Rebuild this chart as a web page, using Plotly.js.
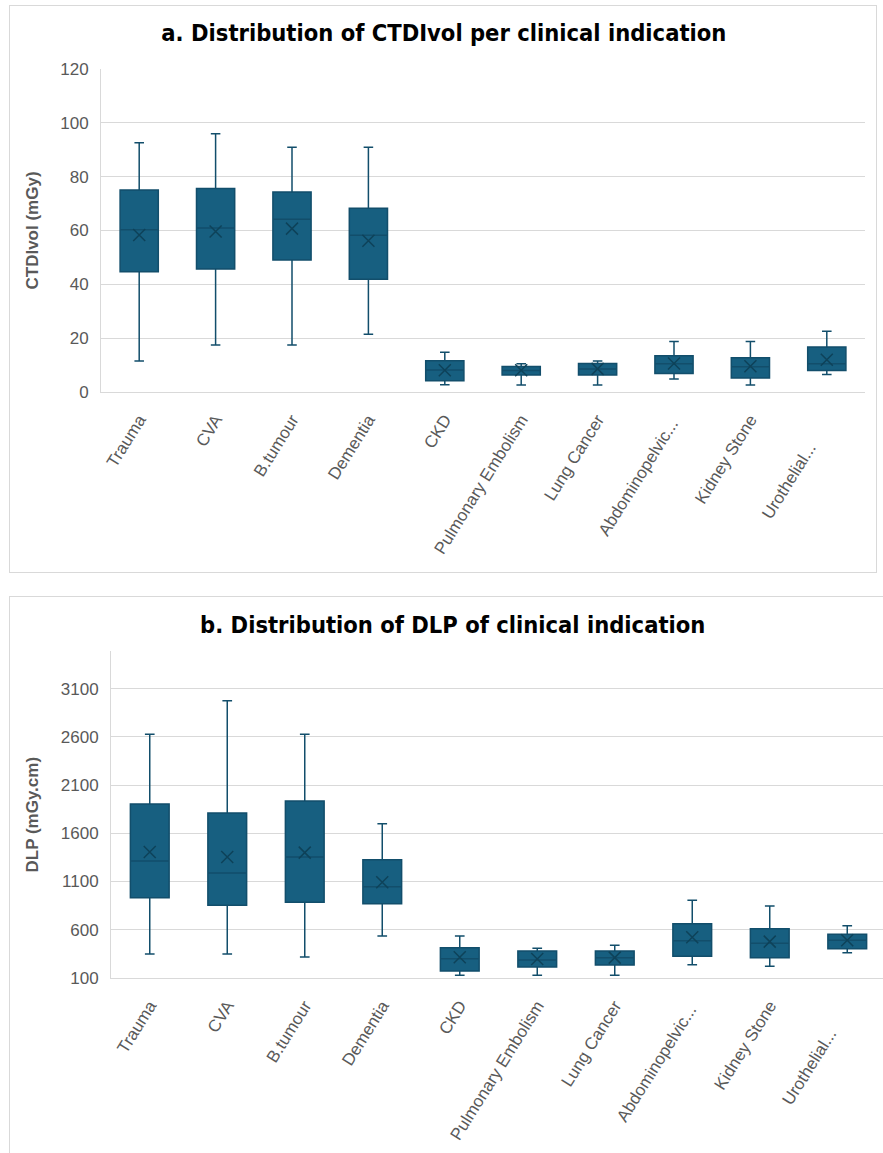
<!DOCTYPE html>
<html>
<head>
<meta charset="utf-8">
<script src="https://cdn.plot.ly/plotly-3.0.1.min.js"></script>
<style>
  html, body { margin: 0; padding: 0; width: 883px; height: 1153px; overflow: hidden; background: #ffffff; }
  .panel { position: absolute; border: 1px solid #d9d9d9; background: #fff; }
</style>
</head>
<body>
<div class="panel" id="panelA" style="left:9px; top:5px; width:866px; height:566px;"><div id="chartA"></div></div>
<div class="panel" id="panelB" style="left:9px; top:596px; width:898px; height:568px;"><div id="chartB"></div></div>
<script>
// Categories (clinical indications)
const categories = ["Trauma", "CVA", "B.tumour", "Dementia", "CKD", "Pulmonary Embolism", "Lung Cancer", "Abdominopelvic...", "Kidney Stone", "Urothelial..."];
// Tick labels as displayed (Excel shifts the truncated last label along its baseline)
const tickLabels = ["Trauma", "CVA", "B.tumour", "Dementia", "CKD", "Pulmonary Embolism", "Lung Cancer", "Abdominopelvic...\u00a0", "Kidney Stone", "Urothelial...\u00a0\u00a0\u00a0\u00a0\u00a0\u00a0\u00a0"];

// a. CTDIvol (mGy)
const ctdiMin    = [11.5, 17.5, 17.5, 21.5, 2.7, 2.6, 2.6, 4.8, 2.6, 6.5];
const ctdiQ1     = [44.7, 45.7, 49.0, 41.9, 4.2, 6.3, 6.3, 6.9, 5.2, 8.0];
const ctdiMedian = [60.3, 60.9, 64.2, 58.2, 8.2, 8.0, 8.5, 10.5, 9.4, 10.5];
const ctdiQ3     = [75.0, 75.6, 74.3, 68.3, 11.6, 9.5, 10.6, 13.5, 12.7, 16.7];
const ctdiMax    = [92.6, 95.9, 90.9, 90.9, 14.8, 10.5, 11.5, 18.8, 18.8, 22.6];
const ctdiMean   = [58.3, 59.6, 60.7, 56.2, 8.1, 8.1, 8.6, 10.6, 9.6, 12.0];

// b. DLP (mGy.cm)
const dlpMin    = [349, 349, 318, 536, 128, 128, 128, 238, 221, 362];
const dlpQ1     = [933, 854, 885, 870, 173, 214, 235, 325, 311, 404];
const dlpMedian = [1313, 1189, 1355, 1047, 300, 287, 311, 487, 460, 491];
const dlpQ3     = [1904, 1811, 1935, 1327, 414, 380, 380, 663, 611, 553];
const dlpMax    = [2627, 2973, 2627, 1700, 535, 408, 439, 906, 847, 642];
const dlpMean   = [1407, 1355, 1400, 1092, 315, 297, 311, 522, 477, 491];

const ctdiTicks = [0, 20, 40, 60, 80, 100, 120];
const dlpTicks  = [100, 600, 1100, 1600, 2100, 2600, 3100];

const FILL = "#175f80";
const LINE = "#124e6b";
const MEANC = "#0e4259";
const GRID = "#d9d9d9";
const TXT = "#595959";
const FONT = "Liberation Sans, Arial, sans-serif";
const TITLEFONT = "Liberation Sans Narrow, DejaVu Sans Condensed, Arial Narrow, sans-serif";

function boxTrace(q1, med, q3, lo, hi) {
  return {
    type: "box",
    x: categories,
    q1: q1, median: med, q3: q3, lowerfence: lo, upperfence: hi,
    fillcolor: FILL,
    line: { color: LINE, width: 1.5 },
    width: 0.5,
    whiskerwidth: 0.25,
    boxpoints: false,
    showlegend: false,
    hoverinfo: "skip"
  };
}
function meanTrace(mean) {
  return {
    type: "scatter", mode: "markers",
    x: categories, y: mean,
    marker: { symbol: "x-thin-open", size: 12, color: MEANC, line: { color: MEANC, width: 1.5 } },
    showlegend: false, hoverinfo: "skip"
  };
}

function makeLayout(w, h, m, title, tx, ty, yRange, yTicks, yTitle) {
  return {
    width: w, height: h,
    margin: m,
    paper_bgcolor: "rgba(0,0,0,0)",
    plot_bgcolor: "#ffffff",
    showlegend: false,
    title: {
      text: title, xref: "container", yref: "container", x: tx, y: ty,
      xanchor: "center", yanchor: "middle",
      font: { family: TITLEFONT, size: 23.5, color: "#000000", weight: 700 }
    },
    xaxis: {
      type: "category",
      range: [-0.5, categories.length - 0.5],
      tickmode: "array", tickvals: categories, ticktext: tickLabels,
      tickangle: -58,
      tickfont: { family: FONT, size: 17, color: TXT },
      ticklabelstandoff: 10,
      showgrid: false, showline: true, linecolor: GRID, linewidth: 1,
      ticks: "", automargin: false
    },
    yaxis: {
      range: yRange, tickvals: yTicks, ticktext: yTicks.map(String),
      tickfont: { family: FONT, size: 17, color: TXT },
      showgrid: true, gridcolor: GRID, gridwidth: 1,
      showline: true, linecolor: GRID, linewidth: 1,
      zeroline: false, ticks: "", ticklabelstandoff: 8, automargin: false
    },
    annotations: [{
      text: "<b>" + yTitle + "</b>", xref: "paper", yref: "paper",
      x: 0, y: 0.5, xanchor: "center", yanchor: "middle",
      xshift: -69, textangle: -90, showarrow: false,
      font: { family: FONT, size: 17, color: TXT }
    }]
  };
}

const config = { staticPlot: true, displayModeBar: false };

Plotly.newPlot("chartA",
  [boxTrace(ctdiQ1, ctdiMedian, ctdiQ3, ctdiMin, ctdiMax), meanTrace(ctdiMean)],
  makeLayout(866, 566, { l: 91, r: 11, t: 63, b: 180 },
    "a. Distribution of CTDIvol per clinical indication", 0.501, 0.952,
    [0, 120], ctdiTicks, "CTDIvol (mGy)"),
  config);

const layoutB = makeLayout(898, 568, { l: 101, r: 22, t: 54, b: 187 },
    "b. Distribution of DLP of clinical indication", 0.493, 0.951,
    [100, 3490], dlpTicks, "DLP (mGy.cm)");
layoutB.annotations[0].xshift = -79;
Plotly.newPlot("chartB",
  [boxTrace(dlpQ1, dlpMedian, dlpQ3, dlpMin, dlpMax), meanTrace(dlpMean)],
  layoutB, config);
</script>
</body>
</html>
